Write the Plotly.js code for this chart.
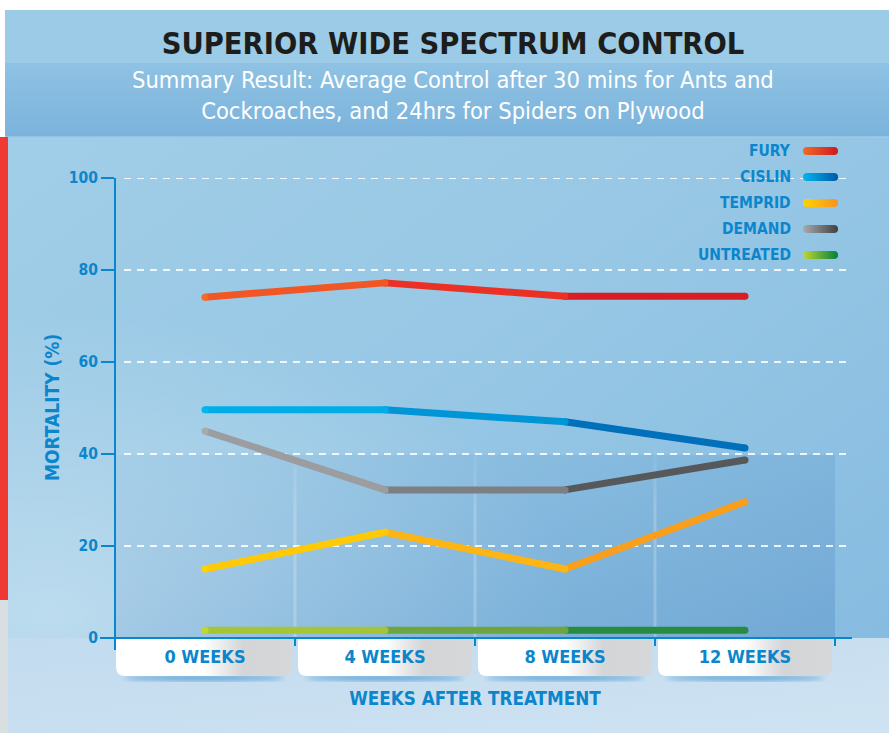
<!DOCTYPE html>
<html>
<head>
<meta charset="utf-8">
<script src="https://cdn.plot.ly/plotly-3.0.1.min.js"></script>
<style>
  html, body { margin: 0; padding: 0; background: #ffffff; }
  #chart { width: 889px; height: 733px; }
</style>
</head>
<body>
<div id="chart"></div>
<script>
// ---------------- DATA ----------------
const categories = ['0 WEEKS', '4 WEEKS', '8 WEEKS', '12 WEEKS'];
const seriesNames = ['FURY', 'CISLIN', 'TEMPRID', 'DEMAND', 'UNTREATED'];
const fury      = [74.1, 77.2, 74.3, 74.3];
const cislin    = [49.6, 49.6, 47.0, 41.3];
const temprid   = [15.0, 23.0, 15.0, 29.6];
const demand    = [45.0, 32.2, 32.2, 38.7];
const untreated = [1.7, 1.7, 1.7, 1.7];
const yTickVals = [0, 20, 40, 60, 80, 100];
const titleText = 'SUPERIOR WIDE SPECTRUM CONTROL';
const subtitleText = 'Summary Result: Average Control after 30 mins for Ants and<br>Cockroaches, and 24hrs for Spiders on Plywood';
const xTitleText = 'WEEKS AFTER TREATMENT';
const yTitleText = 'MORTALITY (%)';

// colour at each point (gradient look)
const furyColors      = ['#f26a24', '#ef4126', '#e61e25', '#cd1920'];
const cislinColors    = ['#00b6ef', '#00a3e3', '#0087cb', '#0058a8'];
const tempridColors   = ['#ffd200', '#fdc00d', '#fbaa1a', '#f7931e'];
const demandColors    = ['#a9aaad', '#8e8f92', '#6e6f72', '#404042'];
const untreatedColors = ['#c0d730', '#8cb33c', '#4f963f', '#00803e'];

const seriesValues = [fury, cislin, temprid, demand, untreated];
const seriesColors = [furyColors, cislinColors, tempridColors, demandColors, untreatedColors];

// ---------------- STYLE ----------------
const W = 889, H = 733;
const M = { l: 115, r: 54, t: 178, b: 95 };
const PW = W - M.l - M.r, PH = H - M.t - M.b;
const BLUE = '#0b86cc';
const NARROW = '"Liberation Sans Narrow", "DejaVu Sans Condensed", "Arial Narrow", sans-serif';
const px2x = p => (p - M.l) / PW;
const py2y = p => (H - M.b - p) / PH;

function hex2rgb(h) { h = h.replace('#',''); return [0,2,4].map(i => parseInt(h.substr(i,2),16)); }
function mix(a, b) { const A = hex2rgb(a), B = hex2rgb(b); return 'rgb(' + A.map((v,i)=>Math.round((v+B[i])/2)).join(',') + ')'; }

// ---------------- TRACES ----------------
const traces = [];
const drawOrder = [4, 2, 3, 1, 0];
drawOrder.forEach(s => {
  const vals = seriesValues[s], cols = seriesColors[s];
  for (let i = 0; i < vals.length - 1; i++) {
    traces.push({
      type: 'scatter', mode: 'lines+markers',
      x: [categories[i], categories[i+1]],
      y: [vals[i], vals[i+1]],
      name: seriesNames[s], legendgroup: seriesNames[s], showlegend: false,
      line: { color: mix(cols[i], cols[i+1]), width: 7 },
      marker: { color: [i === 0 ? cols[i] : mix(cols[i-1], cols[i]), mix(cols[i], cols[i+1])], size: 7, line: { width: 0 } },
      hoverinfo: 'x+y+name'
    });
  }
});

// ---------------- BACKGROUND (decorative SVG) ----------------
const legendRowsPx = [151, 177, 203, 229, 255];
const catW = PW / categories.length;
let svg = `<svg xmlns="http://www.w3.org/2000/svg" width="${W}" height="${H}" viewBox="0 0 ${W} ${H}">
<defs>
 <linearGradient id="main" x1="0" y1="0" x2="0.9" y2="1">
  <stop offset="0" stop-color="#a3cfe8"/><stop offset="0.5" stop-color="#98c8e5"/><stop offset="1" stop-color="#86bbe0"/>
 </linearGradient>
 <radialGradient id="glow" cx="0.05" cy="0.95" r="0.6">
  <stop offset="0" stop-color="#ffffff" stop-opacity="0.35"/><stop offset="1" stop-color="#ffffff" stop-opacity="0"/>
 </radialGradient>
 <linearGradient id="sub" x1="0" y1="0" x2="0" y2="1">
  <stop offset="0" stop-color="#8fc2e3"/><stop offset="1" stop-color="#7bb3dc"/>
 </linearGradient>
 <linearGradient id="dark" x1="0" y1="0" x2="1" y2="1">
  <stop offset="0" stop-color="#3f7fbf" stop-opacity="0.05"/><stop offset="1" stop-color="#3a78b8" stop-opacity="0.28"/>
 </linearGradient>
 <linearGradient id="vgrid" x1="0" y1="0" x2="0" y2="1">
  <stop offset="0" stop-color="#ffffff" stop-opacity="0"/><stop offset="0.35" stop-color="#ffffff" stop-opacity="0.2"/><stop offset="1" stop-color="#ffffff" stop-opacity="0.22"/>
 </linearGradient>
 <linearGradient id="bottom" x1="0" y1="0" x2="1" y2="1">
  <stop offset="0" stop-color="#c2dbef"/><stop offset="1" stop-color="#cfe3f2"/>
 </linearGradient>
 <linearGradient id="box" x1="0" y1="0" x2="1" y2="0">
  <stop offset="0" stop-color="#ffffff"/><stop offset="0.5" stop-color="#ffffff"/><stop offset="0.72" stop-color="#d4d5d7"/><stop offset="1" stop-color="#d6d7d9"/>
 </linearGradient>
 <filter id="blur"><feGaussianBlur stdDeviation="2.5"/></filter>`;
seriesColors.forEach((c, s) => {
  svg += `<linearGradient id="lg${s}" x1="0" y1="0" x2="1" y2="0"><stop offset="0" stop-color="${c[0]}"/><stop offset="1" stop-color="${c[3]}"/></linearGradient>`;
});
svg += `</defs>
<rect x="0" y="0" width="${W}" height="${H}" fill="#ffffff"/>
<rect x="5" y="10" width="${W-5}" height="${H-10}" fill="url(#main)"/>
<rect x="5" y="137" width="${W-5}" height="503" fill="url(#glow)"/>
<rect x="5" y="10" width="${W-5}" height="53" fill="#9ccbe7"/>
<rect x="5" y="63" width="${W-5}" height="74" fill="url(#sub)"/>
<rect x="5" y="136" width="${W-5}" height="2" fill="#9fcbe7" opacity="0.7"/>
<rect x="${M.l}" y="455" width="${PW}" height="${H-M.b-455}" fill="url(#dark)"/>
<rect x="5" y="${H-M.b}" width="${W-5}" height="${M.b}" fill="url(#bottom)"/>
<rect x="0" y="137" width="8" height="463" fill="#ee3a33"/>
<rect x="0" y="600" width="8" height="133" fill="#d9dfe0"/>`;
for (let i = 1; i < categories.length; i++) {
  const gx = M.l + catW * i;
  svg += `<rect x="${gx-1.5}" y="440" width="3" height="${H-M.b-440}" fill="url(#vgrid)"/>`;
}
// category boxes
categories.forEach((c, i) => {
  const x0 = M.l + catW * i + (i === 0 ? 1 : 3), x1 = M.l + catW * (i + 1) - 3;
  const y0 = H - M.b + 1, y1 = 676, r = 9;
  svg += `<ellipse cx="${(x0+x1)/2}" cy="${y1+2}" rx="${(x1-x0)/2-8}" ry="3" fill="#1f7fc8" opacity="0.55" filter="url(#blur)"/>`;
  svg += `<path d="M${x0},${y0} L${x1},${y0} L${x1},${y1-r} Q${x1},${y1} ${x1-r},${y1} L${x0+r},${y1} Q${x0},${y1} ${x0},${y1-r} Z" fill="url(#box)"/>`;
});
svg += `</svg>`;
const bgURI = 'data:image/svg+xml;charset=utf-8,' + encodeURIComponent(svg);

// legend swatches (drawn above gridlines)
let lsvg = `<svg xmlns="http://www.w3.org/2000/svg" width="40" height="130" viewBox="0 0 40 130"><defs>`;
seriesColors.forEach((c, s) => {
  lsvg += `<linearGradient id="lg${s}" x1="0" y1="0" x2="1" y2="0"><stop offset="0" stop-color="${c[0]}"/><stop offset="1" stop-color="${c[3]}"/></linearGradient>`;
});
lsvg += `</defs>`;
legendRowsPx.forEach((py, s) => {
  lsvg += `<rect x="2" y="${py - 140 - 4}" width="35" height="8" rx="4" ry="4" fill="url(#lg${s})"/>`;
});
lsvg += `</svg>`;
const legURI = 'data:image/svg+xml;charset=utf-8,' + encodeURIComponent(lsvg);

// ---------------- ANNOTATIONS / SHAPES ----------------
const annotations = [];
annotations.push({
  text: subtitleText, xref: 'paper', yref: 'paper', x: px2x(453), y: py2y(95),
  xanchor: 'center', yanchor: 'middle', showarrow: false, align: 'center',
  font: { family: NARROW, size: 23.5, color: '#ffffff' }
});
seriesNames.forEach((n, s) => {
  annotations.push({
    text: '<b>' + n + '</b>', xref: 'paper', yref: 'paper', x: px2x(793), y: py2y(legendRowsPx[s]),
    xanchor: 'right', yanchor: 'middle', showarrow: false,
    font: { family: NARROW, size: 15.5, color: BLUE }
  });
});
annotations.push({
  text: '<b>' + yTitleText + '</b>', xref: 'paper', yref: 'paper', x: px2x(52), y: py2y(408),
  xanchor: 'center', yanchor: 'middle', showarrow: false, textangle: -90,
  font: { family: NARROW, size: 19, color: BLUE }
});

const shapes = [];
yTickVals.filter(v => v > 0).forEach(v => {
  shapes.push({ type: 'line', layer: 'below', xref: 'paper', yref: 'y', x0: px2x(124), x1: px2x(850), y0: v, y1: v,
    line: { color: 'rgba(255,255,255,0.85)', width: 2, dash: '7px,6px' } });
});
shapes.push({ type: 'line', xref: 'paper', yref: 'paper', x0: px2x(100), x1: px2x(852), y0: 0, y1: 0, line: { color: BLUE, width: 2 } });
shapes.push({ type: 'line', xref: 'paper', yref: 'paper', x0: 0, x1: 0, y0: py2y(650), y1: 1, line: { color: BLUE, width: 2 } });

const layout = {
  width: W, height: H,
  margin: M,
  paper_bgcolor: 'rgba(0,0,0,0)', plot_bgcolor: 'rgba(0,0,0,0)',
  showlegend: false,
  title: {
    text: '<b>' + titleText + '</b>', xref: 'container', yref: 'container',
    x: 453 / W, y: 1 - 43 / H, xanchor: 'center', yanchor: 'middle',
    font: { family: NARROW, size: 30.5, color: '#1d1d1b' }
  },
  xaxis: {
    type: 'category', categoryorder: 'array', categoryarray: categories,
    range: [-0.5, categories.length - 0.5],
    tickson: 'boundaries', ticks: 'outside', ticklen: 7, tickwidth: 2, tickcolor: BLUE,
    showline: false, zeroline: false, showgrid: false,
    ticklabelstandoff: 6,
    tickfont: { family: NARROW, size: 18, color: BLUE, weight: 'bold' },
    title: { text: '<b>' + xTitleText + '</b>', standoff: 25, font: { family: NARROW, size: 18.7, color: BLUE } },
    automargin: false, fixedrange: true
  },
  yaxis: {
    range: [0, 100], tickvals: yTickVals, ticktext: yTickVals.map(v => '<b>' + v + '</b>'),
    ticks: 'outside', ticklen: 13, tickwidth: 2, tickcolor: BLUE,
    showline: false, zeroline: false, showgrid: false,
    tickfont: { family: NARROW, size: 15.5, color: BLUE },
    automargin: false, fixedrange: true
  },
  images: [{
    source: bgURI, xref: 'paper', yref: 'paper',
    x: -M.l / PW, y: 1 + M.t / PH, sizex: W / PW, sizey: H / PH,
    xanchor: 'left', yanchor: 'top', sizing: 'stretch', layer: 'below'
  }, {
    source: legURI, xref: 'paper', yref: 'paper',
    x: px2x(801), y: py2y(140), sizex: 40 / PW, sizey: 130 / PH,
    xanchor: 'left', yanchor: 'top', sizing: 'stretch', layer: 'above'
  }],
  annotations: annotations,
  shapes: shapes
};

Plotly.newPlot('chart', traces, layout, { displayModeBar: false, staticPlot: true });
</script>
</body>
</html>
